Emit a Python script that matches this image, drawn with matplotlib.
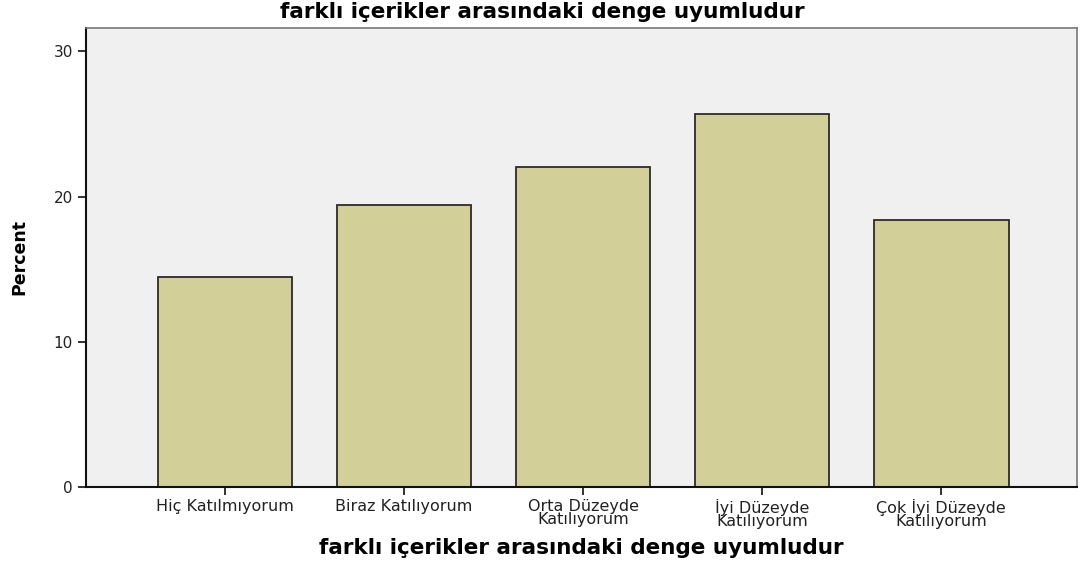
import matplotlib.pyplot as plt
import numpy as np

# Kategoriler ve yüzdeler
categories = ['Hiç Katılmıyorum', 'Biraz Katılıyorum', 'Orta Düzeyde\nKatılıyorum',
              'İyi Düzeyde\nKatılıyorum', 'Çok İyi Düzeyde\nKatılıyorum']
percents = [14.45, 19.4, 22.05, 25.7, 18.4]
yticks = [0, 10, 20, 30]

title = 'farklı içerikler arasındaki denge uyumludur'

fig = plt.figure(figsize=(10.91, 5.61), dpi=100)
ax = fig.add_axes([0.0788, 0.132, 0.908, 0.818])
ax.set_facecolor('#F0F0F0')

x = np.arange(len(categories))
ax.bar(x, percents, width=0.75, color='#D3CF98', edgecolor='#2b2b2b', linewidth=1.3, zorder=2)

ax.set_xlim(-0.775, 4.755)
ax.set_ylim(0, 31.6)
ax.set_yticks(yticks)
ax.set_yticklabels([str(t) for t in yticks], fontsize=11, color='#222222')
ax.set_xticks(x)
ax.set_xticklabels(categories, fontsize=11.5, color='#222222', linespacing=0.82)
ax.tick_params(axis='both', direction='out', length=6, width=1.3, color='#222222')
ax.tick_params(axis='x', pad=3)

for side in ['left', 'bottom']:
    ax.spines[side].set_linewidth(1.5)
    ax.spines[side].set_color('#111111')
for side in ['top', 'right']:
    ax.spines[side].set_linewidth(1.2)
    ax.spines[side].set_color('#777777')

ax.set_ylabel('Percent', fontsize=12.5, fontweight='bold', labelpad=18)
ax.set_xlabel(title, fontsize=15.5, fontweight='bold', labelpad=6)
# başlık şekle göre ortalanmış
fig.text(0.497, 0.978, title, fontsize=15.5, fontweight='bold', ha='center', va='center')

plt.savefig('out.png', dpi=100)
